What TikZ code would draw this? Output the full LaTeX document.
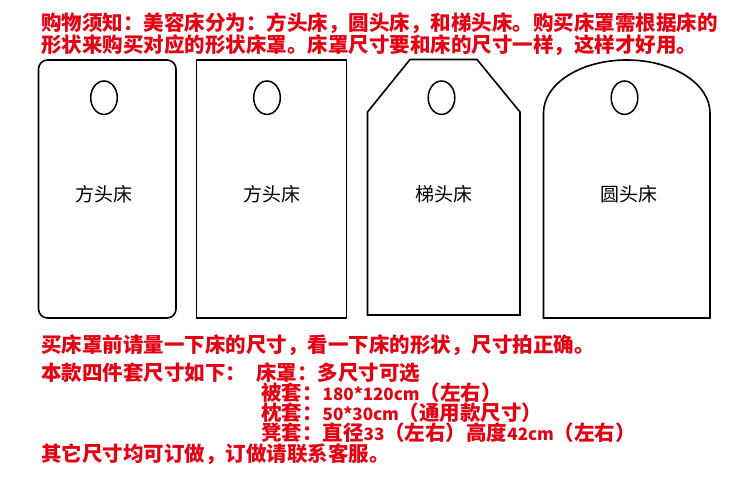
\documentclass[tikz,border=0pt]{standalone}
\usepackage{fontspec}
\newfontfamily\cjk{Noto Sans CJK SC}
\definecolor{txtred}{RGB}{228,0,18}
\newcommand{\lat}[1]{{\cjk\bfseries\fontsize{17}{20}\selectfont #1}}
\begin{document}
\begin{tikzpicture}[x=1pt,y=1pt,
  bed/.style={draw=black,line width=1.6pt,line join=miter},
  hole/.style={draw=black,line width=1.5pt},
  lbl/.style={font=\cjk\fontsize{19}{21}\selectfont,text=black,inner sep=0pt},
  rtxt/.style={font=\cjk\bfseries\fontsize{20.5}{22}\selectfont,text=txtred,inner sep=0pt,anchor=west}]
\useasboundingbox[fill=white] (0,0) rectangle (750,500);
% titles
\node[rtxt] (t1) at (41,477) {购物须知：美容床分为：方头床，圆头床，和梯头床。购买床罩需根据床的};
\node[rtxt] (t2) at (41,455) {形状来购买对应的形状床罩。床罩尺寸要和床的尺寸一样，这样才好用。};
% bed shapes
\draw[bed,rounded corners=9pt] (38.5,182) rectangle (176,440);
\draw[bed] (196.5,182) rectangle (346.5,440);
\draw[bed] (367.5,185) -- (367.5,388) -- (410,440.5) -- (477,440.5) -- (520,388) -- (520,185) -- cycle;
\draw[bed] (543.5,182) -- (543.5,387) arc[start angle=180,end angle=0,x radius=83.25,y radius=53] -- (710,182) -- cycle;
% holes
\draw[hole] (104,402.3) ellipse[x radius=13.3,y radius=16.7];
\draw[hole] (267,402.3) ellipse[x radius=13.3,y radius=16.7];
\draw[hole] (441.5,402.3) ellipse[x radius=13.3,y radius=16.7];
\draw[hole] (624.5,402.3) ellipse[x radius=13.3,y radius=16.7];
% labels
\node[lbl] (l1) at (104,306) {方头床};
\node[lbl] (l2) at (271.5,306) {方头床};
\node[lbl] (l3) at (443.5,306) {梯头床};
\node[lbl] (l4) at (629,306) {圆头床};
% lower text
\node[rtxt] (b1) at (41,155) {买床罩前请量一下床的尺寸，看一下床的形状，尺寸拍正确。};
\node[rtxt] (b2) at (41,127) {本款四件套尺寸如下：};
\node[rtxt] (b3) at (256,127) {床罩：多尺寸可选};
\node[rtxt] (b4) at (261,107) {被套：\lat{180*120cm}（左右）};
\node[rtxt] (b5) at (261,87) {枕套：\lat{50*30cm}（通用款尺寸）};
\node[rtxt] (b6) at (261,67) {凳套：直径\lat{33}（左右）高度\lat{42cm}（左右）};
\node[rtxt] (b7) at (41,46) {其它尺寸均可订做，订做请联系客服。};
\end{tikzpicture}
\end{document}
